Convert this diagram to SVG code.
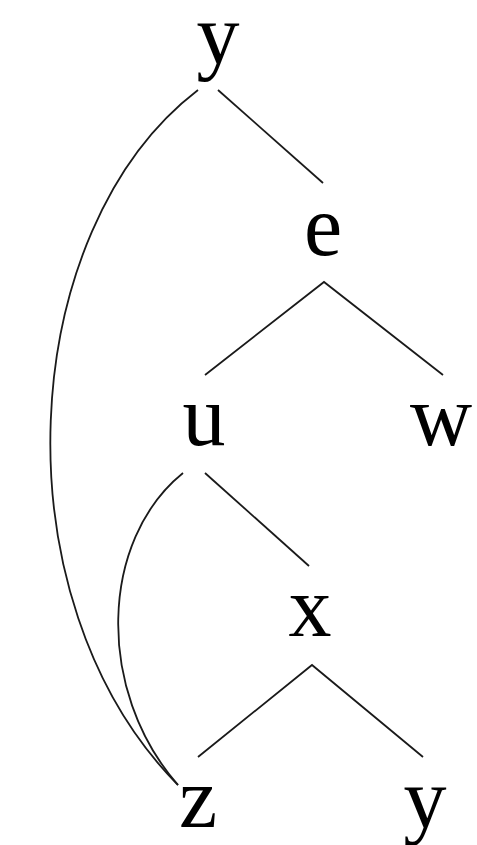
<svg xmlns="http://www.w3.org/2000/svg" width="477" height="845" viewBox="0 0 477 845">
<rect width="477" height="845" fill="#fff"/>
<g id="connectors" stroke="#1a1a1a" stroke-width="1.8" fill="none">
<line x1="218" y1="90" x2="323" y2="183"/>
<path d="M198,90 C15,230 -5,600 178,785"/>
<path d="M205,375 L324,282 L443,375"/>
<path d="M183,473 C100,540 95,690 178,785"/>
<line x1="205" y1="473" x2="309" y2="566"/>
<path d="M198,757 L312,665 L423,757"/>
</g>
<g id="node-y-top"><text x="196.5" y="63" font-size="86" font-family="Liberation Serif">y</text></g>
<g id="node-e"><text x="304" y="255" font-size="86" font-family="Liberation Serif">e</text></g>
<g id="node-u"><text x="182.5" y="445" font-size="86" font-family="Liberation Serif">u</text></g>
<g id="node-w"><text x="410" y="445" font-size="86" font-family="Liberation Serif">w</text></g>
<g id="node-x"><text x="288.5" y="636" font-size="86" font-family="Liberation Serif">x</text></g>
<g id="node-z"><text x="179" y="827" font-size="86" font-family="Liberation Serif">z</text></g>
<g id="node-y-bottom"><text x="403.5" y="827" font-size="86" font-family="Liberation Serif">y</text></g>
</svg>
